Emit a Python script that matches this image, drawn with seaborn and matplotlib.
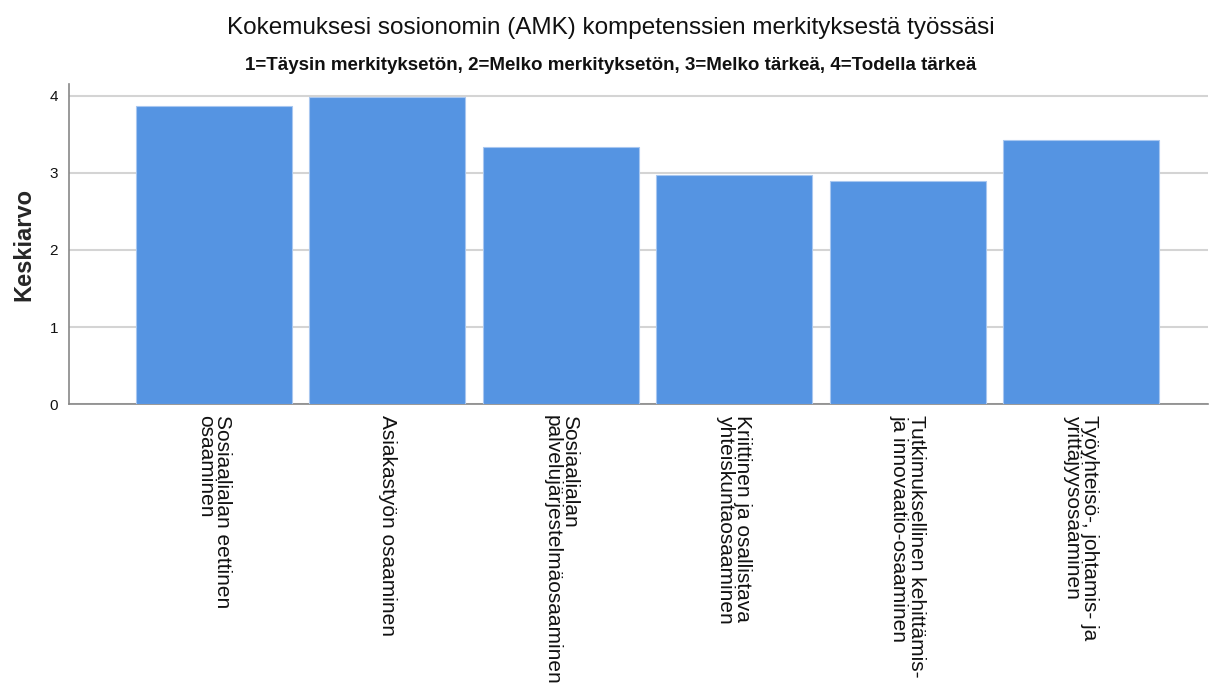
import matplotlib
matplotlib.use("Agg")
import matplotlib.pyplot as plt
import seaborn as sns
import pandas as pd

categories = [
    "Sosiaalialan eettinen\nosaaminen",
    "Asiakastyön osaaminen",
    "Sosiaalialan\npalvelujärjestelmäosaaminen",
    "Kriittinen ja osallistava\nyhteiskuntaosaaminen",
    "Tutkimuksellinen kehittämis-\nja innovaatio-osaaminen",
    "Työyhteisö-, johtamis- ja\nyrittäjyysosaaminen",
]
means = [3.87, 3.98, 3.33, 2.97, 2.89, 3.43]
yticks = [0, 1, 2, 3, 4]

df = pd.DataFrame({"kompetenssi": categories, "keskiarvo": means})

sns.set_style("white")
plt.rcParams["font.family"] = ["Liberation Sans", "DejaVu Sans"]
plt.rcParams["text.color"] = "#111111"

fig = plt.figure(figsize=(12.22, 6.93), dpi=100)
ax = fig.add_axes([0.0565, 0.4166, 0.932, 0.462])

sns.barplot(data=df, x="kompetenssi", y="keskiarvo", color="#5594e2",
            saturation=1, width=0.9, edgecolor="#a8c7f0", linewidth=0.8,
            ax=ax, zorder=3)

ax.set_ylim(0, 4.15)
ax.set_xlim(-0.835, 5.73)
ax.set_yticks(yticks)
ax.yaxis.grid(True, color="#d4d4d4", linewidth=1.5, zorder=0)
ax.set_axisbelow(True)
for s in ["top", "right"]:
    ax.spines[s].set_visible(False)
ax.spines["left"].set_color("#888888")
ax.spines["bottom"].set_color("#888888")
ax.spines["left"].set_linewidth(1.2)
ax.spines["bottom"].set_linewidth(1.2)

ax.tick_params(axis="y", length=0, pad=8, labelsize=11, labelcolor="#111111")
ax.tick_params(axis="x", length=0, pad=8, labelcolor="#111111")
ax.set_xlabel("")
ax.set_ylabel("Keskiarvo", fontsize=17, fontweight="bold", labelpad=10)

# rotated labels, lines start at the top like in the original
for lab in ax.get_xticklabels():
    lab.set_rotation(-90)
    lab.set_fontsize(15)
    lab.set_linespacing(0.85)
    lab.set_va("top")
    lab.set_ha("center")
    lab.set_multialignment("left")

fig.text(0.5, 0.960, "Kokemuksesi sosionomin (AMK) kompetenssien merkityksestä työssäsi",
         ha="center", va="center", fontsize=17.5)
fig.text(0.5, 0.905, "1=Täysin merkityksetön, 2=Melko merkityksetön, 3=Melko tärkeä, 4=Todella tärkeä",
         ha="center", va="center", fontsize=13.5, fontweight="bold")

fig.savefig("out.png", dpi=100)
